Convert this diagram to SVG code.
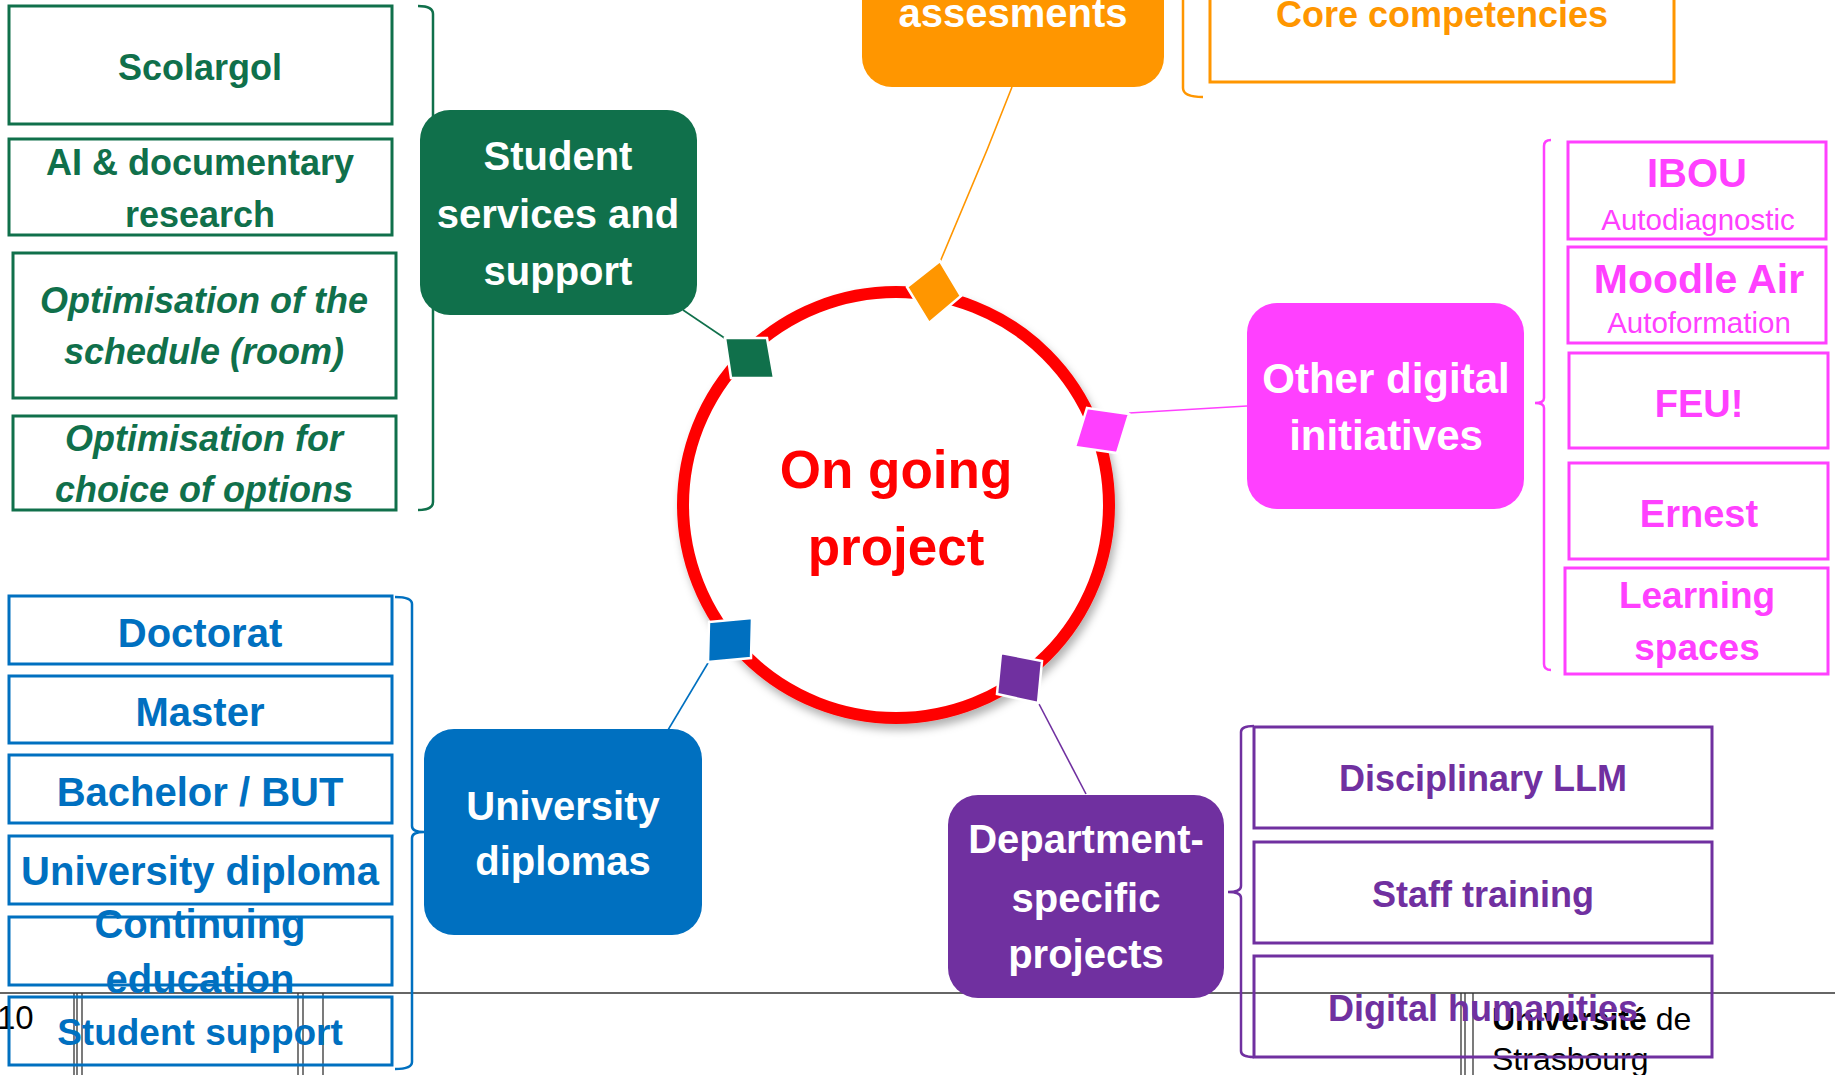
<svg xmlns="http://www.w3.org/2000/svg" width="1835" height="1075" viewBox="0 0 1835 1075">
<defs>
<style>
text{font-family:"Liberation Sans",Arial,sans-serif;text-anchor:middle;font-weight:bold}
.box{fill:none;stroke-width:3}
.g{fill:#10704B}.gs{stroke:#10704B}
.b{fill:#0070C0}.bs{stroke:#0070C0}
.p{fill:#7030A0}.ps{stroke:#7030A0}
.o{fill:#FF9600}.os{stroke:#FF9600}
.k{fill:#FF40FF}.ks{stroke:#FF40FF}
.w{fill:#FFFFFF}
.node{font-size:40px}
.bt{font-size:36px}
.blt{font-size:40px}
.brk{fill:none;stroke-width:2.5}
.dia{stroke:#FFFFFF;stroke-width:2.5}
.con{fill:none;stroke-width:1.6}
.foot{stroke:#333333;stroke-width:1.3}
</style>
<filter id="sh" x="-20%" y="-20%" width="140%" height="140%">
<feDropShadow dx="3" dy="6" stdDeviation="4" flood-color="#000" flood-opacity="0.3"/>
</filter>
</defs>
<rect width="1835" height="1075" fill="#FFFFFF"/>

<g id="footer">
<line class="foot" x1="0" y1="993" x2="1835" y2="993"/>
<line class="foot" x1="74" y1="993" x2="74" y2="1075"/>
<line class="foot" x1="77" y1="993" x2="77" y2="1075"/>
<line class="foot" x1="82" y1="993" x2="82" y2="1075"/>
<line class="foot" x1="298" y1="993" x2="298" y2="1075"/>
<line class="foot" x1="303" y1="993" x2="303" y2="1075"/>
<line class="foot" x1="323" y1="993" x2="323" y2="1075"/>
<line class="foot" x1="1461" y1="993" x2="1461" y2="1075"/>
<line class="foot" x1="1465" y1="993" x2="1465" y2="1075"/>
<line class="foot" x1="1473" y1="993" x2="1473" y2="1075"/>
<text x="-3" y="1029" style="text-anchor:start;font-weight:normal;font-size:33px" fill="#000">10</text>
<text x="1492" y="1030" style="text-anchor:start;font-size:32px" fill="#000">Université<tspan style="font-weight:normal"> de</tspan></text>
<text x="1492" y="1070" style="text-anchor:start;font-weight:normal;font-size:32px" fill="#000">Strasbourg</text>
</g>

<g id="connectors">
<path class="con gs" d="M683,310 L726,339"/>
<path class="con os" d="M1012,87 L987,150 L940,262"/>
<path class="con ks" d="M1129,413 L1247,406"/>
<path class="con bs" d="M708,663 L668,730"/>
<path class="con ps" d="M1039,704 L1086,794"/>
</g>

<g id="center">
<circle cx="896" cy="505" r="213" fill="#FFFFFF" stroke="#FF0000" stroke-width="12" filter="url(#sh)"/>
<text x="896" y="488" font-size="53" fill="#FF0000">On going</text>
<text x="896" y="565" font-size="53" fill="#FF0000">project</text>
</g>

<g id="diamonds">
<polygon class="dia o" points="940,261 961,296 929,323 907,287"/>
<polygon class="dia g" points="725,338 767,338 774,378 731,378"/>
<polygon class="dia k" points="1087,408 1129,414 1117,453 1075,447"/>
<polygon class="dia b" points="709,622 752,618 751,658 708,662"/>
<polygon class="dia p" points="1001,653 1042,661 1038,703 997,694"/>
</g>

<g id="node-student-services">
<rect x="420" y="110" width="277" height="205" rx="30" class="g"/>
<text class="node w" x="558" y="170">Student</text>
<text class="node w" x="558" y="228">services and</text>
<text class="node w" x="558" y="285">support</text>
</g>
<g id="list-student-services">
<path class="brk gs" d="M418,6 C428,6 433,8 433,14 V502 C433,508 428,510 418,510"/>
<rect class="box gs" x="9" y="6" width="383" height="118"/>
<text class="bt g" x="200" y="80">Scolargol</text>
<rect class="box gs" x="9" y="139" width="383" height="96"/>
<text class="bt g" x="200" y="175">AI &amp; documentary</text>
<text class="bt g" x="200" y="227">research</text>
<rect class="box gs" x="13" y="253" width="383" height="145"/>
<text class="bt g" x="204" y="313" font-style="italic">Optimisation of the</text>
<text class="bt g" x="204" y="364" font-style="italic">schedule (room)</text>
<rect class="box gs" x="13" y="416" width="383" height="94"/>
<text class="bt g" x="204" y="451" font-style="italic">Optimisation for</text>
<text class="bt g" x="204" y="502" font-style="italic">choice of options</text>
</g>

<g id="node-assessments">
<rect x="862" y="-120" width="302" height="207" rx="30" class="o"/>
<text class="node w" x="1013" y="27">assesments</text>
</g>
<g id="list-assessments">
<path class="brk os" d="M1183,-10 V88 C1183,94 1190,97 1203,97"/>
<rect class="box os" x="1210" y="-60" width="464" height="142"/>
<text class="o" x="1442" y="27" font-size="36">Core competencies</text>
</g>

<g id="node-other-digital">
<rect x="1247" y="303" width="277" height="206" rx="30" class="k"/>
<text class="w" x="1386" y="393" font-size="42">Other digital</text>
<text class="w" x="1386" y="450" font-size="42">initiatives</text>
</g>
<g id="list-other-digital">
<path class="brk ks" d="M1551,140 C1547,140 1544,142 1544,146 V398 C1544,401 1541,403 1535,403 C1541,403 1544,405 1544,408 V664 C1544,668 1547,670 1551,670"/>
<rect class="box ks" x="1568" y="142" width="258" height="97"/>
<text class="k" x="1697" y="187" font-size="40">IBOU</text>
<text class="k" x="1698" y="230" font-size="29.5" style="font-weight:normal">Autodiagnostic</text>
<rect class="box ks" x="1568" y="247" width="258" height="96"/>
<text class="k" x="1699" y="293" font-size="41">Moodle Air</text>
<text class="k" x="1699" y="333" font-size="29.5" style="font-weight:normal">Autoformation</text>
<rect class="box ks" x="1569" y="353" width="259" height="95"/>
<text class="k" x="1699" y="417" font-size="38">FEU!</text>
<rect class="box ks" x="1569" y="463" width="259" height="96"/>
<text class="k" x="1699" y="527" font-size="38">Ernest</text>
<rect class="box ks" x="1565" y="568" width="263" height="106"/>
<text class="k" x="1697" y="608" font-size="37">Learning</text>
<text class="k" x="1697" y="660" font-size="37">spaces</text>
</g>

<g id="node-university-diplomas">
<rect x="424" y="729" width="278" height="206" rx="30" class="b"/>
<text class="node w" x="563" y="820">University</text>
<text class="node w" x="563" y="875">diplomas</text>
</g>
<g id="list-university-diplomas">
<path class="brk bs" d="M395,597 C406,597 412,599 412,604 V826 C412,830 415,832 424,832 C415,832 412,834 412,838 V1062 C412,1067 406,1069 395,1069"/>
<rect class="box bs" x="9" y="596" width="383" height="68"/>
<text class="blt b" x="200" y="647">Doctorat</text>
<rect class="box bs" x="9" y="676" width="383" height="67"/>
<text class="blt b" x="200" y="726">Master</text>
<rect class="box bs" x="9" y="755" width="383" height="68"/>
<text class="blt b" x="200" y="806">Bachelor / BUT</text>
<rect class="box bs" x="9" y="836" width="383" height="68"/>
<text class="blt b" x="200" y="885">University diploma</text>
<rect class="box bs" x="9" y="917" width="383" height="68"/>
<text class="blt b" x="200" y="938">Continuing</text>
<text class="blt b" x="200" y="993">education</text>
<rect class="box bs" x="9" y="997" width="383" height="68"/>
<text class="b" x="200" y="1045" style="font-size:37px">Student support</text>
</g>

<g id="node-department-projects">
<rect x="948" y="795" width="276" height="203" rx="30" class="p"/>
<text class="node w" x="1086" y="853">Department-</text>
<text class="node w" x="1086" y="912">specific</text>
<text class="node w" x="1086" y="968">projects</text>
</g>
<g id="list-department-projects">
<path class="brk ps" d="M1254,726 C1246,726 1241,728 1241,732 V886 C1241,890 1237,892 1228,892 C1237,892 1241,894 1241,898 V1051 C1241,1055 1246,1057 1254,1057"/>
<rect class="box ps" x="1254" y="727" width="458" height="101"/>
<text class="bt p" x="1483" y="791">Disciplinary LLM</text>
<rect class="box ps" x="1254" y="842" width="458" height="101"/>
<text class="bt p" x="1483" y="907">Staff training</text>
<rect class="box ps" x="1254" y="956" width="458" height="101"/>
<text class="bt p" x="1483" y="1021">Digital humanities</text>
</g>
</svg>
